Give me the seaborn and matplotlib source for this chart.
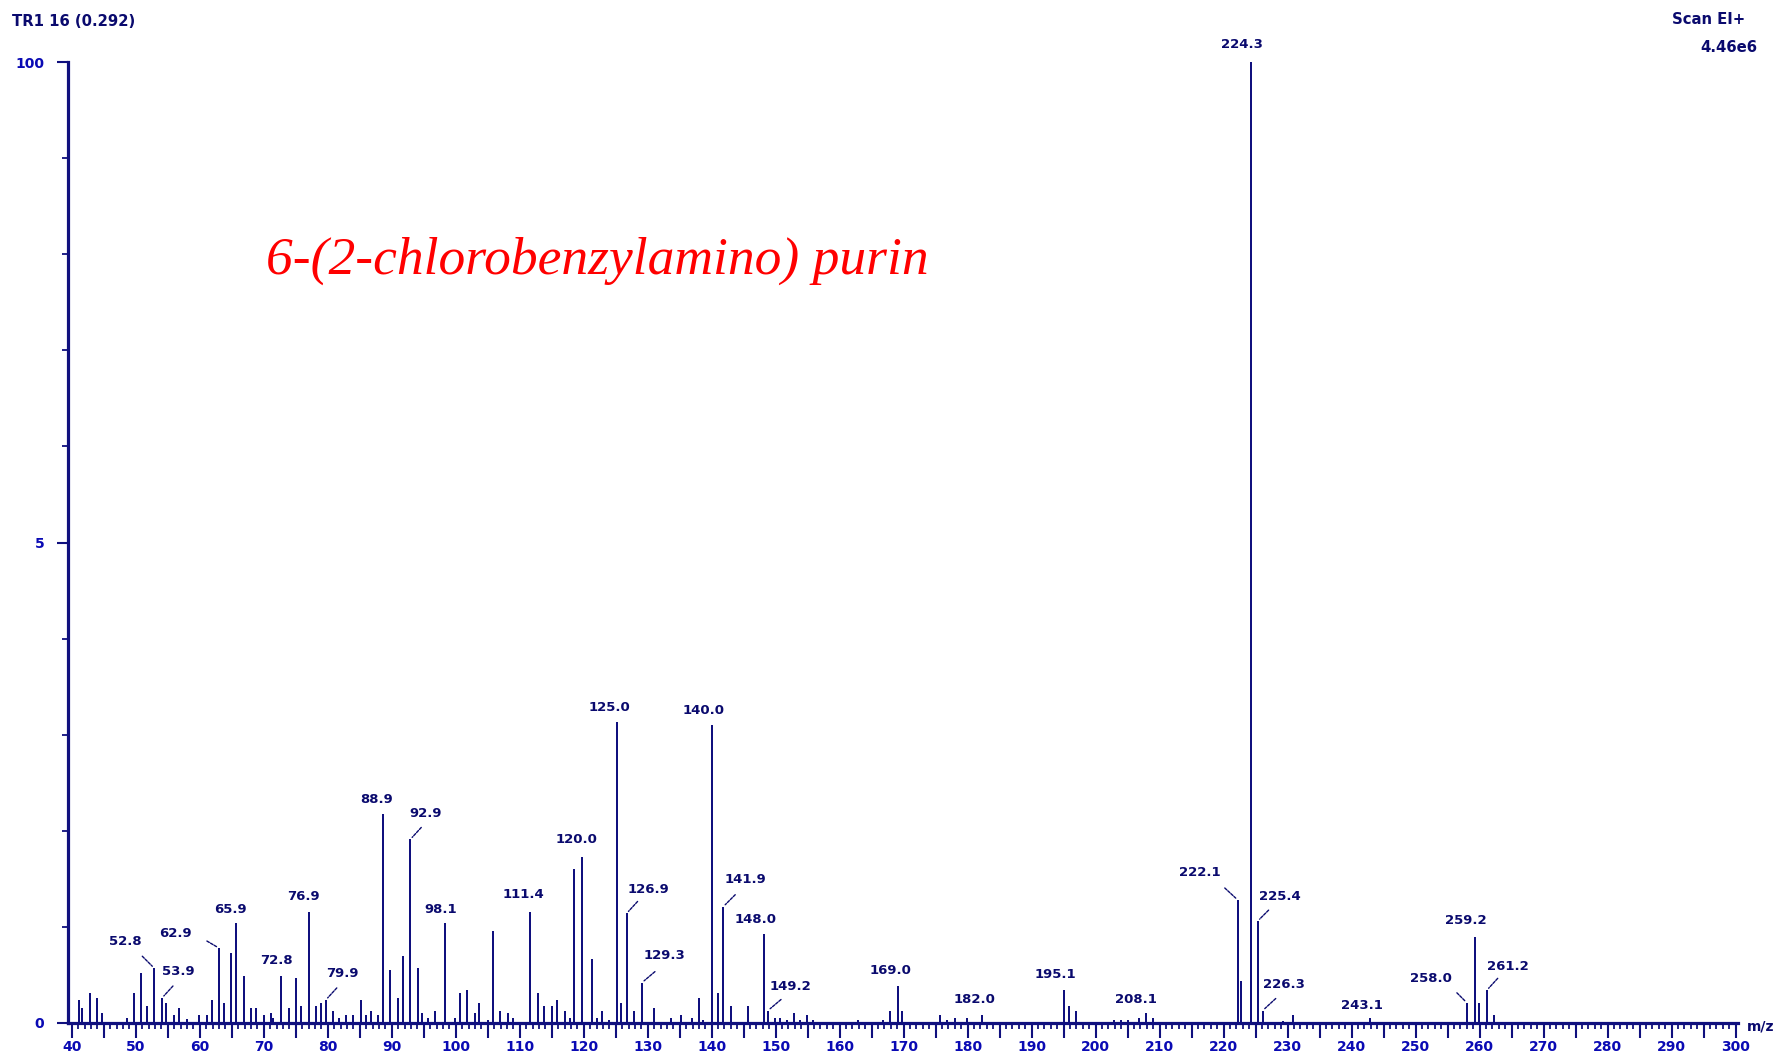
import numpy as np
import pandas as pd
import matplotlib
matplotlib.use("Agg")
import matplotlib.pyplot as plt
import seaborn as sns

# ---------------- data ----------------
mz = [41.2, 41.6, 42.9, 44.0, 44.7, 48.6, 49.7, 50.9, 51.7, 52.9, 54.1, 54.8, 56.0, 56.8,
      58.0, 59.9, 61.1, 61.9, 63.0, 63.8, 64.9, 65.7, 66.9, 68.0, 68.8, 70.0, 71.2, 71.5,
      72.7, 73.9, 75.0, 75.8, 77.0, 78.2, 79.0, 79.7, 80.9, 81.7, 82.8, 84.0, 85.2, 86.0,
      86.7, 87.9, 88.6, 89.8, 91.0, 91.7, 92.9, 94.1, 94.8, 95.6, 96.8, 98.4, 99.9, 100.7,
      101.8, 103.0, 103.7, 105.0, 105.8, 106.9, 108.1, 108.9, 111.6, 112.8, 113.8, 115.0,
      115.8, 117.0, 117.8, 118.5, 119.7, 121.3, 122.0, 122.9, 124.0, 125.2, 125.9, 126.7,
      127.9, 129.1, 131.0, 133.7, 135.2, 136.9, 138.0, 138.7, 140.0, 141.0, 141.8, 143.0,
      145.7, 148.1, 148.8, 149.9, 150.7, 151.8, 152.8, 153.8, 154.9, 155.8, 162.8, 166.7,
      167.9, 169.1, 169.8, 175.7, 176.8, 178.0, 179.9, 182.3, 195.0, 195.9, 197.0, 202.8,
      203.9, 205.1, 206.7, 207.9, 209.0, 222.2, 222.7, 224.2, 225.3, 226.1, 229.3, 230.9,
      242.9, 258.0, 259.2, 259.9, 261.1, 262.2]
intensity = [2.4, 1.6, 3.1, 2.6, 1.0, 0.5, 3.1, 5.2, 1.8, 5.7, 2.6, 2.1, 0.8, 1.6,
             0.4, 0.8, 0.8, 2.4, 7.8, 2.1, 7.3, 10.4, 4.9, 1.6, 1.6, 0.8, 1.0, 0.5,
             4.9, 1.6, 4.7, 1.8, 11.6, 1.8, 2.1, 2.4, 1.3, 0.5, 0.8, 0.8, 2.4, 0.8,
             1.3, 0.8, 21.8, 5.5, 2.6, 7.0, 19.1, 5.7, 1.0, 0.5, 1.3, 10.4, 0.5, 3.1,
             3.4, 1.0, 2.1, 0.3, 9.6, 1.3, 1.0, 0.5, 11.6, 3.1, 1.8, 1.8,
             2.4, 1.3, 0.5, 16.0, 17.3, 6.7, 0.5, 1.3, 0.3, 31.3, 2.1, 11.4,
             1.3, 4.2, 1.6, 0.5, 0.8, 0.5, 2.6, 0.3, 31.0, 3.1, 12.1, 1.8,
             1.8, 9.3, 1.3, 0.5, 0.5, 0.3, 1.0, 0.3, 0.8, 0.3, 0.3, 0.3,
             1.3, 3.9, 1.3, 0.8, 0.3, 0.5, 0.5, 0.8, 3.4, 1.8, 1.3, 0.3,
             0.3, 0.3, 0.5, 1.0, 0.5, 12.8, 4.4, 100.0, 10.6, 1.3, 0.25, 0.8,
             0.5, 2.1, 9.0, 2.1, 3.4, 0.8]

peak_labels = ["52.8", "53.9", "62.9", "65.9", "72.8", "76.9", "79.9", "88.9", "92.9",
               "98.1", "111.4", "120.0", "125.0", "126.9", "129.3", "140.0", "141.9",
               "148.0", "149.2", "169.0", "182.0", "195.1", "208.1", "222.1", "224.3",
               "225.4", "226.3", "243.1", "258.0", "259.2", "261.2"]

x_major_ticks = list(range(40, 301, 5))
x_minor_ticks = list(range(40, 301, 1))
y_major_ticks = [0, 50, 100]
y_major_labels = ["0", "5", "100"]
y_minor_ticks = [10, 20, 30, 40, 60, 70, 80, 90]

title_text = "6-(2-chlorobenzylamino) purin"
header_left = "TR1 16 (0.292)"
header_right = "Scan EI+"
header_scale = "4.46e6"
axis_unit = "m/z"

# ---------------- styling (label offsets in pixels: dx, dy, leader end) ----------------
label_offsets = {
    "52.8": (-29, 26.5, (-12, 12)), "53.9": (16, 26.5, (11, 12)),
    "62.9": (-43, 14.5, (-12, 7)), "65.9": (-6, 14, None), "72.8": (-5, 15.5, None),
    "76.9": (-5, 15, None), "79.9": (17, 26.7, (11, 12)), "88.9": (-6, 14, None),
    "92.9": (15, 26, (11, 12)), "98.1": (-5, 14, None), "111.4": (-7, 17, None),
    "120.0": (-5, 17, None), "125.0": (-8, 15, None), "126.9": (22, 24, (11, 12)),
    "129.3": (22, 26.7, (13, 11)), "140.0": (-8, 15, None), "141.9": (22, 27, (12, 12)),
    "148.0": (-8, 14.5, None), "149.2": (22.5, 24, (13, 11)), "169.0": (-7, 15, None),
    "182.0": (-8, 15.5, None), "195.1": (-8, 15.5, None), "208.1": (-10, 14.3, None),
    "222.1": (-38, 27, (-13, 12)), "224.3": (-8.6, 17, None), "225.4": (22, 25, (11, 11)),
    "226.3": (21, 25.7, (13, 12)), "243.1": (-8, 13, None), "258.0": (-36, 24, (-10, 10)),
    "259.2": (-9, 15.7, None), "261.2": (21, 23.5, (11, 12)),
}

NAVY = "#10107e"
LABEL = "#0a0a6e"
TICKLBL = "#0a0ab4"
PX = 0.72  # points per pixel at 100 dpi

sns.set_theme(style="white")
plt.rcParams["font.family"] = ["DejaVu Sans"]

W, H = 1777, 1060
fig = plt.figure(figsize=(W / 100, H / 100), dpi=100)
fig.patch.set_facecolor("white")
ax_l, ax_r, ax_b, ax_t = 68, 1737.6, 1023, 62
ax = fig.add_axes([ax_l / W, (H - ax_b) / H, (ax_r - ax_l) / W, (ax_b - ax_t) / H])
ax.set_facecolor("white")

x_lo, x_hi = 39.42, 300.3
px_per_unit = (ax_r - ax_l) / (x_hi - x_lo)

df = pd.DataFrame({"mz": mz, "intensity": intensity})
min_gap = np.min(np.diff(np.unique(df["mz"])))
bar_units = 2.0 / px_per_unit  # bars exactly 2 px wide
sns.barplot(data=df, x="mz", y="intensity", native_scale=True, orient="x",
            color=NAVY, saturation=1, width=bar_units / min_gap, linewidth=0,
            errorbar=None, ax=ax, zorder=2)
for p in ax.patches:
    p.set_antialiased(False)

ax.set_xlim(x_lo, x_hi)
ax.set_ylim(0, 100)
ax.set_xlabel("")
ax.set_ylabel("")

for s in ["top", "right"]:
    ax.spines[s].set_visible(False)
for s in ["left", "bottom"]:
    ax.spines[s].set_color(NAVY)
    ax.spines[s].set_linewidth(2.3)
    ax.spines[s].set_zorder(3)

ax.set_xticks(x_major_ticks, labels=[str(t) if t % 10 == 0 else "" for t in x_major_ticks],
              fontweight="bold", fontsize=10, color=TICKLBL)
ax.set_xticks(x_minor_ticks, minor=True)
ax.set_yticks(y_major_ticks, labels=y_major_labels, fontweight="bold", fontsize=10, color=TICKLBL)
ax.set_yticks(y_minor_ticks, minor=True)
ax.tick_params(axis="x", which="major", direction="out", length=10.5, width=1.5,
               color=NAVY, pad=1.5, bottom=True)
ax.tick_params(axis="x", which="minor", direction="out", length=4.5, width=1.3,
               color=NAVY, bottom=True)
ax.tick_params(axis="y", which="major", direction="out", length=8, width=1.5,
               color=NAVY, pad=9, left=True)
ax.tick_params(axis="y", which="minor", direction="out", length=4.5, width=1.3,
               color=NAVY, left=True)
ax.grid(False)

# peak labels with leader lines
mz_arr = np.array(mz)
int_arr = np.array(intensity)
for lab in peak_labels:
    i = int(np.argmin(np.abs(mz_arr - float(lab))))
    px, py = mz_arr[i], int_arr[i]
    dx, dy, leader = label_offsets[lab]
    ax.annotate(lab, xy=(px, py), xytext=(dx * PX, dy * PX), textcoords="offset points",
                ha="center", va="center", fontsize=9.5, fontweight="bold", color=LABEL,
                annotation_clip=False, zorder=4)
    if leader is not None:
        lx, ly = leader
        ax.annotate("", xy=(px, py), xytext=(lx * PX, ly * PX), textcoords="offset points",
                    arrowprops=dict(arrowstyle="-", color=LABEL, lw=1.0,
                                    linestyle=(0, (2, 1)), shrinkA=0, shrinkB=2),
                    annotation_clip=False, zorder=4)

# header texts
fig.text(12 / W, 1 - 21 / H, header_left, ha="left", va="center", fontsize=10.7,
         fontweight="bold", color=LABEL)
fig.text(1672 / W, 1 - 20 / H, header_right, ha="left", va="center", fontsize=10.7,
         fontweight="bold", color=LABEL)
fig.text(1757 / W, 1 - 47 / H, header_scale, ha="right", va="center", fontsize=10.7,
         fontweight="bold", color=LABEL)
fig.text(1747 / W, 1 - 1026 / H, axis_unit, ha="left", va="center", fontsize=10,
         fontweight="bold", color=LABEL)

# title
fig.text(266 / W, 1 - 274 / H, title_text, ha="left", va="baseline", fontsize=38.5,
         fontstyle="italic", family=["Liberation Serif", "DejaVu Serif"], color="#ff0000")

fig.savefig("out.png", dpi=100, facecolor="white")
